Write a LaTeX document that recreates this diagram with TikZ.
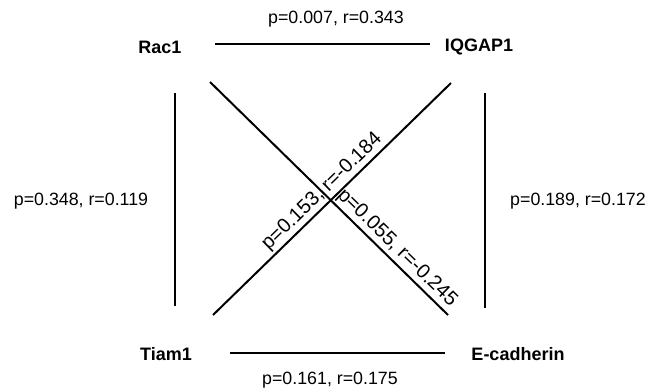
\documentclass[tikz,border=0pt]{standalone}
\usepackage{fontspec}
\setmainfont{Liberation Sans}
\begin{document}
\begin{tikzpicture}[x=1pt,y=-1pt,
  gene/.style={font=\fontsize{18}{20}\selectfont\bfseries, inner sep=0pt},
  lab/.style={font=\fontsize{17.8}{20}\selectfont, inner sep=0pt},
  dlab/.style={font=\fontsize{20}{22}\selectfont, inner sep=0pt, sloped, anchor=south, above=2pt},
  edge/.style={line width=2pt, black}]
\useasboundingbox (0,0) rectangle (660,391);
\node[gene] (rac) at (160,47) {Rac1};
\node[gene] (iq) at (479,47) {IQGAP1};
\node[gene] (tiam) at (166,354) {Tiam1};
\node[gene] (ecad) at (518,354) {E-cadherin};
\coordinate (t1) at (215,44); \coordinate (t2) at (430,44);
\coordinate (b1) at (230,353); \coordinate (b2) at (445,353);
\coordinate (l1) at (175,93); \coordinate (l2) at (175,306);
\coordinate (r1) at (485,93); \coordinate (r2) at (485,308);
\coordinate (d1a) at (210,82); \coordinate (d1b) at (448,315);
\coordinate (d2a) at (213,315); \coordinate (d2b) at (451,83);
\draw[edge] (t1) -- (t2);
\draw[edge] (b1) -- (b2);
\draw[edge] (l1) -- (l2);
\draw[edge] (r1) -- (r2);
\draw[edge] (d1a) -- node[dlab, pos=0.75] (dl1) {p=0.055, r=-0.245} (d1b);
\draw[edge] (d2a) -- node[dlab, pos=0.494] (dl2) {p=0.153, r=-0.184} (d2b);
\node[lab] (tl) at (336,19) {p=0.007, r=0.343};
\node[lab] (bl) at (330,380) {p=0.161, r=0.175};
\node[lab] (ll) at (81,201) {p=0.348, r=0.119};
\node[lab] (rl) at (578,201) {p=0.189, r=0.172};
\end{tikzpicture}
\end{document}
